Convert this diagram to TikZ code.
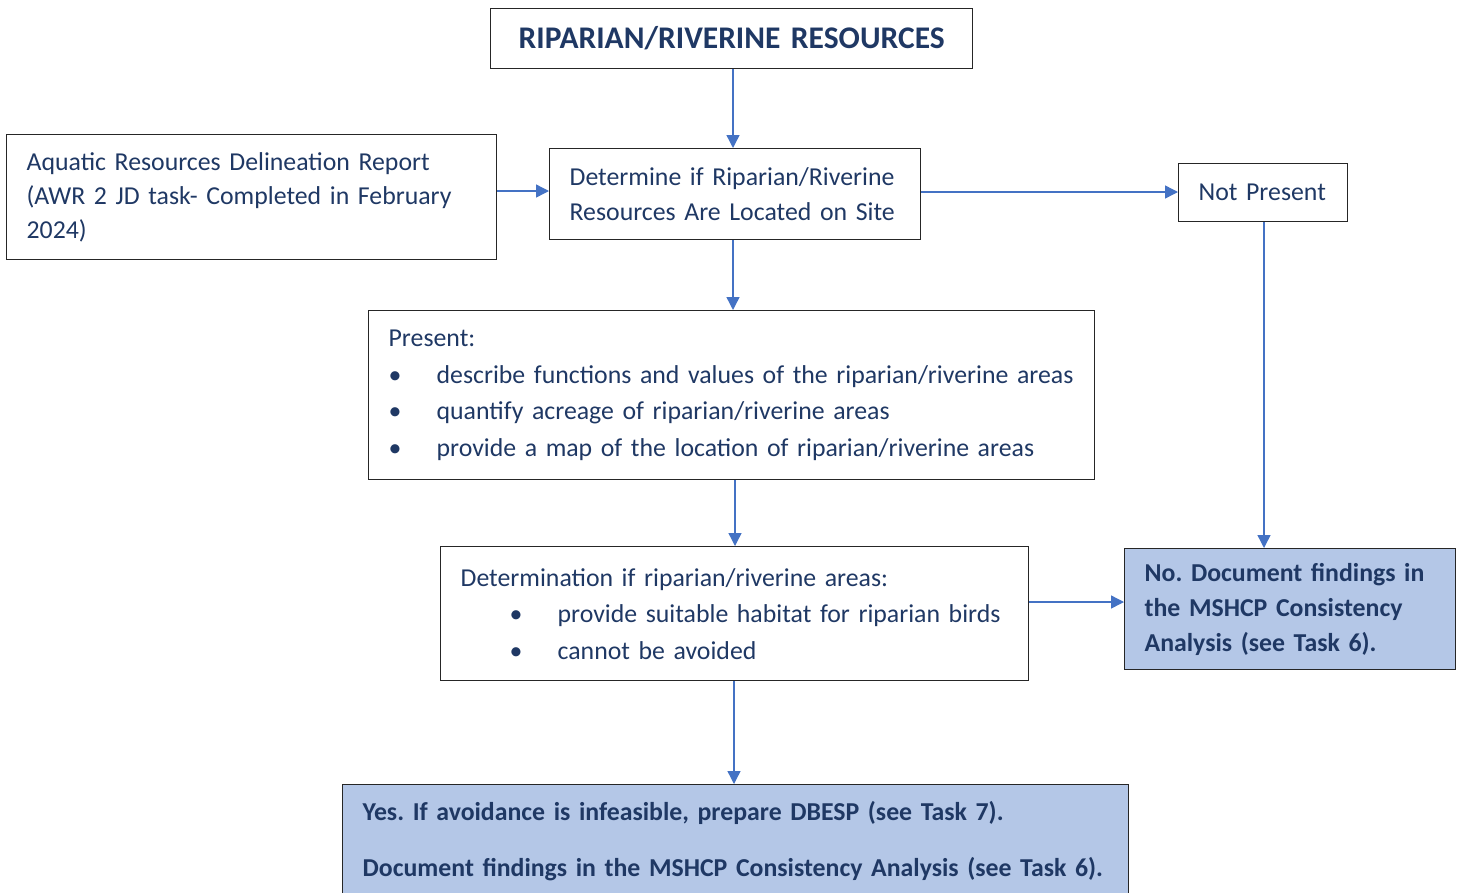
\documentclass[tikz,border=0pt]{standalone}
\usepackage{fontspec}
\setmainfont{Carlito}
\usetikzlibrary{arrows.meta}

\definecolor{navy}{HTML}{1F3864}
\definecolor{linkblue}{HTML}{4472C4}
\definecolor{paleblue}{HTML}{B4C7E7}
\definecolor{boxline}{HTML}{262626}

\newcommand{\itembul}[1]{\makebox[48pt][l]{\textbullet}#1}
\frenchspacing

\begin{document}
\begin{tikzpicture}[
    x=1pt, y=-1pt,
    box/.style={draw=boxline, line width=1.3pt, inner xsep=20pt, inner ysep=0pt,
      align=left, anchor=north west, text=navy, font=\fontsize{25.8}{35.5}\selectfont},
    result/.style={box, fill=paleblue, font=\fontsize{25.8}{35}\selectfont\bfseries},
    link/.style={draw=linkblue, line width=1.4pt, -{Triangle[length=13pt,width=13pt]}},
]
\clip (0,0) rectangle (1465,892);

% Boxes
\node[box, align=center, minimum width=482pt, minimum height=60pt, text width=442pt,
  font=\fontsize{31.5}{36}\selectfont\bfseries] (title) at (490,8) {RIPARIAN/RIVERINE RESOURCES};
\node[box, minimum width=490pt, minimum height=125pt, text width=450pt] (report) at (6,134)
  {Aquatic Resources Delineation Report\\[-1.5pt](AWR 2 JD task- Completed in February\\[-1.5pt]2024)};
\node[box, minimum width=371pt, minimum height=91pt, text width=331pt] (check) at (549,148)
  {Determine if Riparian/Riverine\\Resources Are Located on Site};
\node[box, minimum width=169pt, minimum height=58pt, text width=129pt] (absent) at (1178,163)
  {Not Present};
\node[box, minimum width=726pt, minimum height=169pt, text width=686pt] (present) at (368,310)
  {Present:\\[1pt]\itembul{describe functions and values of the riparian/riverine areas}\\[1pt]
   \itembul{quantify acreage of riparian/riverine areas}\\[1pt]
   \itembul{provide a map of the location of riparian/riverine areas}};
\node[box, minimum width=588pt, minimum height=134pt, text width=548pt] (habitat) at (440,546)
  {Determination if riparian/riverine areas:\\[1pt]
   \hspace{49pt}\itembul{provide suitable habitat for riparian birds}\\[1pt]
   \hspace{49pt}\itembul{cannot be avoided}};
\node[result, minimum width=331pt, minimum height=121pt, text width=291pt] (no) at (1124,548)
  {No. Document findings in\\the MSHCP Consistency\\Analysis (see Task 6).};
\node[result, minimum width=786pt, minimum height=112pt, text width=746pt] (yes) at (342,784)
  {Yes. If avoidance is infeasible, prepare DBESP (see Task 7).\\[21pt]
   Document findings in the MSHCP Consistency Analysis (see Task 6).};

% Connectors
\draw[link] (title.south -| 733,0) -- (check.north -| 733,0);
\draw[link] (report.east |- 0,191) -- (check.west |- 0,191);
\draw[link] (check.east |- 0,192) -- (absent.west |- 0,192);
\draw[link] (check.south -| 733,0) -- (present.north -| 733,0);
\draw[link] (absent.south -| 1264,0) -- (no.north -| 1264,0);
\draw[link] (present.south -| 735,0) -- (habitat.north -| 735,0);
\draw[link] (habitat.east |- 0,602) -- (no.west |- 0,602);
\draw[link] (habitat.south -| 734,0) -- (yes.north -| 734,0);

\end{tikzpicture}
\end{document}
